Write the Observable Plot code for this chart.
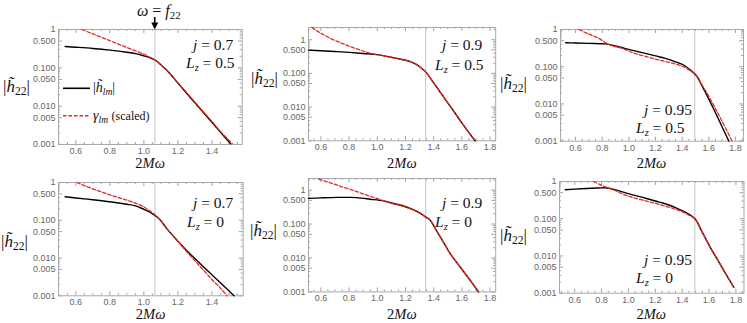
<!DOCTYPE html>
<html><head><meta charset="utf-8">
<script src="https://cdn.jsdelivr.net/npm/d3@7"></script>
<script src="https://cdn.jsdelivr.net/npm/@observablehq/plot@0.6"></script>
<style>
html,body{margin:0;padding:0;background:#fff;}
#root{position:relative;width:747px;height:323px;overflow:hidden;font-family:"Liberation Serif","Times New Roman",serif;color:#111;}
.t{position:absolute;white-space:nowrap;line-height:1;transform:translateY(-50%);}
.t sub{font-size:68%;vertical-align:-0.3em;line-height:0;}
.t i{font-style:italic;}
</style></head><body><div id="root"></div>
<script>
// ---------- data ----------
const spinLabels = ["0.7", "0.9", "0.95"];
const lzLabels = ["0.5", "0"];
const f22 = [1.065, 1.343, 1.494];           // 2Mω of the (2,2) QNM
const xMajor = [0.6, 0.8, 1.0, 1.2, 1.4, 1.6, 1.8];
const yMajor = [0.001, 0.005, 0.01, 0.05, 0.1, 0.5, 1];

// j = 0.7, Lz = 0.5
const hX_a = [0.537,0.6,0.7,0.8,0.9,0.95,1.0,1.04,1.07,1.1,1.15,1.2,1.25,1.3,1.35,1.4,1.45,1.51];
const hY_a = [0.36,0.345,0.32,0.29,0.255,0.235,0.205,0.18,0.155,0.12,0.073,0.04,0.022,0.0122,0.0068,0.0038,0.0021,0.00105];
const gX_a = [0.635,0.7,0.8,0.9,1.0,1.04,1.07,1.1,1.15,1.2,1.25,1.3,1.35,1.4,1.45,1.52];
const gY_a = [1.0,0.77,0.51,0.34,0.225,0.185,0.155,0.12,0.074,0.041,0.023,0.0128,0.0071,0.004,0.0022,0.00105];
// j = 0.9, Lz = 0.5
const hX_b = [0.512,0.6,0.7,0.8,0.9,1.0,1.1,1.16,1.23,1.26,1.29,1.32,1.347,1.4,1.45,1.5,1.55,1.6,1.65,1.694];
const hY_b = [0.49,0.47,0.445,0.42,0.39,0.36,0.30,0.267,0.227,0.2,0.17,0.135,0.107,0.052,0.0265,0.0134,0.0068,0.0034,0.00175,0.001];
const gX_b = [0.535,0.6,0.689,0.75,0.808,0.87,0.926,0.97,1.0,1.1,1.16,1.23,1.26,1.29,1.32,1.347,1.4,1.45,1.5,1.55,1.6,1.65,1.7];
const gY_b = [2.3,1.55,0.99,0.78,0.62,0.51,0.42,0.38,0.36,0.30,0.267,0.227,0.2,0.17,0.135,0.107,0.052,0.0265,0.0134,0.0068,0.0034,0.00175,0.00098];
// j = 0.95, Lz = 0.5
const hX_c = [0.526,0.6,0.7,0.823,0.9,1.02,1.1,1.2,1.268,1.35,1.417,1.466,1.506,1.55,1.6,1.65,1.7,1.75];
const hY_c = [0.44,0.435,0.425,0.41,0.36,0.28,0.24,0.195,0.17,0.135,0.108,0.079,0.058,0.03,0.0135,0.0058,0.0024,0.001];
const gX_c = [0.624,0.7,0.773,0.83,0.87,0.95,1.02,1.1,1.2,1.268,1.35,1.417,1.466,1.506,1.55,1.6,1.65,1.7,1.775];
const gY_c = [1.0,0.75,0.58,0.43,0.37,0.31,0.245,0.2,0.16,0.14,0.118,0.097,0.075,0.058,0.032,0.016,0.0075,0.0034,0.001];
// j = 0.7, Lz = 0
const hX_d = [0.537,0.6,0.7,0.8,0.9,0.95,1.0,1.04,1.07,1.1,1.135,1.2,1.25,1.3,1.35,1.4,1.45,1.5,1.53];
const hY_d = [0.42,0.39,0.35,0.31,0.265,0.24,0.195,0.16,0.13,0.097,0.06,0.028,0.016,0.0097,0.0059,0.0036,0.0022,0.00135,0.001];
const gX_d = [0.606,0.65,0.7,0.75,0.8,0.85,0.9,0.95,1.0,1.04,1.07,1.1,1.135,1.2,1.25,1.3,1.35,1.4,1.45,1.488];
const gY_d = [1.0,0.83,0.68,0.565,0.47,0.4,0.34,0.285,0.225,0.17,0.133,0.098,0.06,0.028,0.015,0.0085,0.0048,0.0027,0.0016,0.001];
// j = 0.9, Lz = 0
const hX_e = [0.512,0.6,0.713,0.8,0.855,0.95,1.044,1.1,1.186,1.25,1.304,1.34,1.375,1.42,1.47,1.517,1.57,1.62,1.67,1.718];
const hY_e = [0.57,0.59,0.61,0.61,0.6,0.54,0.48,0.42,0.34,0.27,0.21,0.165,0.13,0.064,0.029,0.0135,0.0068,0.0036,0.0019,0.001];
const gX_e = [0.583,0.65,0.7,0.75,0.808,0.87,0.926,0.98,1.044,1.1,1.186,1.25,1.304,1.34,1.375,1.42,1.47,1.517,1.57,1.62,1.67,1.72];
const gY_e = [2.1,1.72,1.47,1.25,1.05,0.86,0.71,0.6,0.49,0.41,0.33,0.265,0.205,0.163,0.13,0.064,0.029,0.0135,0.0068,0.0036,0.0019,0.001];
// j = 0.95, Lz = 0
const hX_f = [0.53,0.65,0.77,0.845,0.93,1.013,1.1,1.2,1.262,1.35,1.411,1.46,1.497,1.55,1.609,1.65,1.7,1.75,1.784];
const hY_f = [0.6,0.64,0.67,0.67,0.56,0.46,0.38,0.3,0.26,0.2,0.157,0.125,0.098,0.043,0.017,0.0096,0.0047,0.0023,0.00144];
const gX_f = [0.74,0.79,0.84,0.89,0.95,1.013,1.1,1.2,1.262,1.35,1.411,1.46,1.497,1.55,1.609,1.65,1.7,1.75,1.784];
const gY_f = [1.0,0.82,0.69,0.6,0.47,0.39,0.32,0.26,0.225,0.18,0.148,0.118,0.098,0.043,0.017,0.0096,0.0047,0.0023,0.00144];

// ---------- layout ----------
const root = document.getElementById("root");
const xMinor = d3.range(0.45, 1.9, 0.05).map(v => +v.toFixed(2)).filter(v => !xMajor.some(m => Math.abs(m - v) < 1e-6));
const yMinor = [];
[0.001, 0.01, 0.1, 1].forEach(d => [2,3,4,5,6,7,8,9].forEach(k => { const v = +(k*d).toPrecision(3); if (!yMajor.includes(v)) yMinor.push(v); }));
const fmtY = d => d >= 1 ? "1" : d.toFixed(3);

const panels = [
  {hx:hX_a, hy:hY_a, gx:gX_a, gy:gY_a, f:f22[0], j:spinLabels[0], lz:lzLabels[0], fl:58.3, fr:242, ft:29, fb:144, xd:[0.498,1.578], yd:[0.001,1],
   yl:[3,86], jt:[193,45], lt:[186,63], xl:163},
  {hx:hX_b, hy:hY_b, gx:gX_b, gy:gY_b, f:f22[1], j:spinLabels[1], lz:lzLabels[0], fl:308.3, fr:495.5, ft:26.7, fb:140, xd:[0.512,1.84], yd:[0.001,2.3],
   yl:[251,78], jt:[442,45], lt:[435,65], xl:163},
  {hx:hX_c, hy:hY_c, gx:gX_c, gy:gY_c, f:f22[2], j:spinLabels[2], lz:lzLabels[0], fl:560, fr:743, ft:29, fb:140.7, xd:[0.487,1.86], yd:[0.001,1],
   yl:[500,83], jt:[644,110], lt:[636,128], xl:163},
  {hx:hX_d, hy:hY_d, gx:gX_d, gy:gY_d, f:f22[0], j:spinLabels[0], lz:lzLabels[1], fl:58.3, fr:243, ft:181.7, fb:295, xd:[0.498,1.584], yd:[0.001,1],
   yl:[1,241], jt:[193,203], lt:[187,222], xl:314},
  {hx:hX_e, hy:hY_e, gx:gX_e, gy:gY_e, f:f22[1], j:spinLabels[1], lz:lzLabels[1], fl:308.3, fr:495.5, ft:178.3, fb:291.7, xd:[0.512,1.84], yd:[0.001,2.2],
   yl:[250,230], jt:[442,203], lt:[435,222], xl:314},
  {hx:hX_f, hy:hY_f, gx:gX_f, gy:gY_f, f:f22[2], j:spinLabels[2], lz:lzLabels[1], fl:559, fr:743.5, ft:181, fb:292.7, xd:[0.487,1.86], yd:[0.001,1],
   yl:[500,235], jt:[644,260], lt:[636,278], xl:314}
];

const mL = 34, mR = 4, mT = 3, mB = 16;

function addText(html, left, cy, size, center) {
  const d = document.createElement("div");
  d.className = "t";
  d.innerHTML = html;
  d.style.left = left + "px";
  d.style.top = cy + "px";
  d.style.fontSize = size + "px";
  if (center) d.style.transform = "translate(-50%,-50%)";
  root.appendChild(d);
  return d;
}

const charts = panels.map(p => {
  const iw = p.fr - p.fl, ih = p.fb - p.ft;
  const inX = v => v >= p.xd[0] && v <= p.xd[1];
  const inY = v => v >= p.yd[0] * 0.9999 && v <= p.yd[1] * 1.0001;
  const xMaj = xMajor.filter(inX), xMin = xMinor.filter(inX);
  const yMaj = yMajor.filter(inY), yMin = yMinor.filter(inY);
  const black = p.hx.map((x, i) => ({x, y: p.hy[i]}));
  const red = p.gx.map((x, i) => ({x, y: p.gy[i]}));
  const tk = {stroke: "#8a8a8a", strokeWidth: 0.8};
  const chart = Plot.plot({
    width: iw + mL + mR, height: ih + mT + mB,
    marginLeft: mL, marginRight: mR, marginTop: mT, marginBottom: mB,
    x: {domain: p.xd, axis: null},
    y: {type: "log", domain: p.yd, axis: null},
    style: {fontFamily: "'Liberation Sans', Arial, sans-serif", fontSize: "9px", color: "#666", background: "transparent", overflow: "visible"},
    marks: [
      Plot.ruleX([p.f], {stroke: "#c4c4c4", strokeWidth: 1}),
      Plot.tickX(xMaj, {x: d => d, insetTop: ih - 4, ...tk}),
      Plot.tickX(xMaj, {x: d => d, insetBottom: ih - 4, ...tk}),
      Plot.tickX(xMin, {x: d => d, insetTop: ih - 2, ...tk}),
      Plot.tickX(xMin, {x: d => d, insetBottom: ih - 2, ...tk}),
      Plot.tickY(yMaj, {y: d => d, insetRight: iw - 4, ...tk}),
      Plot.tickY(yMaj, {y: d => d, insetLeft: iw - 4, ...tk}),
      Plot.tickY(yMin, {y: d => d, insetRight: iw - 2, ...tk}),
      Plot.tickY(yMin, {y: d => d, insetLeft: iw - 2, ...tk}),
      Plot.frame({stroke: "#a8a8a8", strokeWidth: 1}),
      Plot.text(xMaj, {x: d => d, text: d3.format(".1f"), frameAnchor: "bottom", lineAnchor: "top", dy: 3, fill: "#666"}),
      Plot.text(yMaj, {y: d => d, text: fmtY, frameAnchor: "left", textAnchor: "end", dx: -3, fill: "#666"}),
      Plot.line(black, {x: "x", y: "y", stroke: "#000", strokeWidth: 1.4, curve: "catmull-rom"}),
      Plot.line(red, {x: "x", y: "y", stroke: "#e8281e", strokeWidth: 1.3, strokeDasharray: "3.5,2", curve: "catmull-rom"})
    ]
  });
  chart.style.position = "absolute";
  chart.style.left = (p.fl - mL) + "px";
  chart.style.top = (p.ft - mT) + "px";
  root.appendChild(chart);

  // texts
  addText("|<i>h&#771;</i><sub>22</sub>|", p.yl[0], p.yl[1], 17);
  addText("2<i>Mω</i>", (p.fl + p.fr) / 2, p.xl, 14.5, true);
  addText("<i>j</i> = " + p.j, p.jt[0], p.jt[1], 15.5);
  addText("<i>L<sub>z</sub></i> = " + p.lz, p.lt[0], p.lt[1], 15.5);
  return chart;
});

// legend (panel 1) and ω = f22 annotation
const ns = "http://www.w3.org/2000/svg";
const ov = document.createElementNS(ns, "svg");
ov.setAttribute("width", 747); ov.setAttribute("height", 323);
ov.style.position = "absolute"; ov.style.left = "0"; ov.style.top = "0"; ov.style.pointerEvents = "none";
root.appendChild(ov);
function el(tag, attrs) { const e = document.createElementNS(ns, tag); for (const k in attrs) e.setAttribute(k, attrs[k]); ov.appendChild(e); return e; }
el("line", {x1: 63, x2: 90, y1: 88.3, y2: 88.3, stroke: "#000", "stroke-width": 1.6});
el("line", {x1: 63, x2: 90, y1: 115.7, y2: 115.7, stroke: "#e8281e", "stroke-width": 1.4, "stroke-dasharray": "3.5,2"});
addText("|<i>h&#771;<sub>lm</sub></i>|", 93, 88, 14);
addText("<i>γ<sub>lm</sub></i> <span style='font-size:12px'>(scaled)</span>", 93, 115.5, 14);

const sx = charts[0].scale("x");
const ax = panels[0].fl - mL + sx.apply(f22[0]);
el("line", {x1: ax, x2: ax, y1: 17, y2: 24, stroke: "#000", "stroke-width": 1.6});
el("polygon", {points: `${ax-3.5},22.5 ${ax+3.5},22.5 ${ax},29.5`, fill: "#000"});
addText("<i>ω</i> = <i>f</i><sub>22</sub>", ax + 4, 11, 16, true);
</script></body></html>
